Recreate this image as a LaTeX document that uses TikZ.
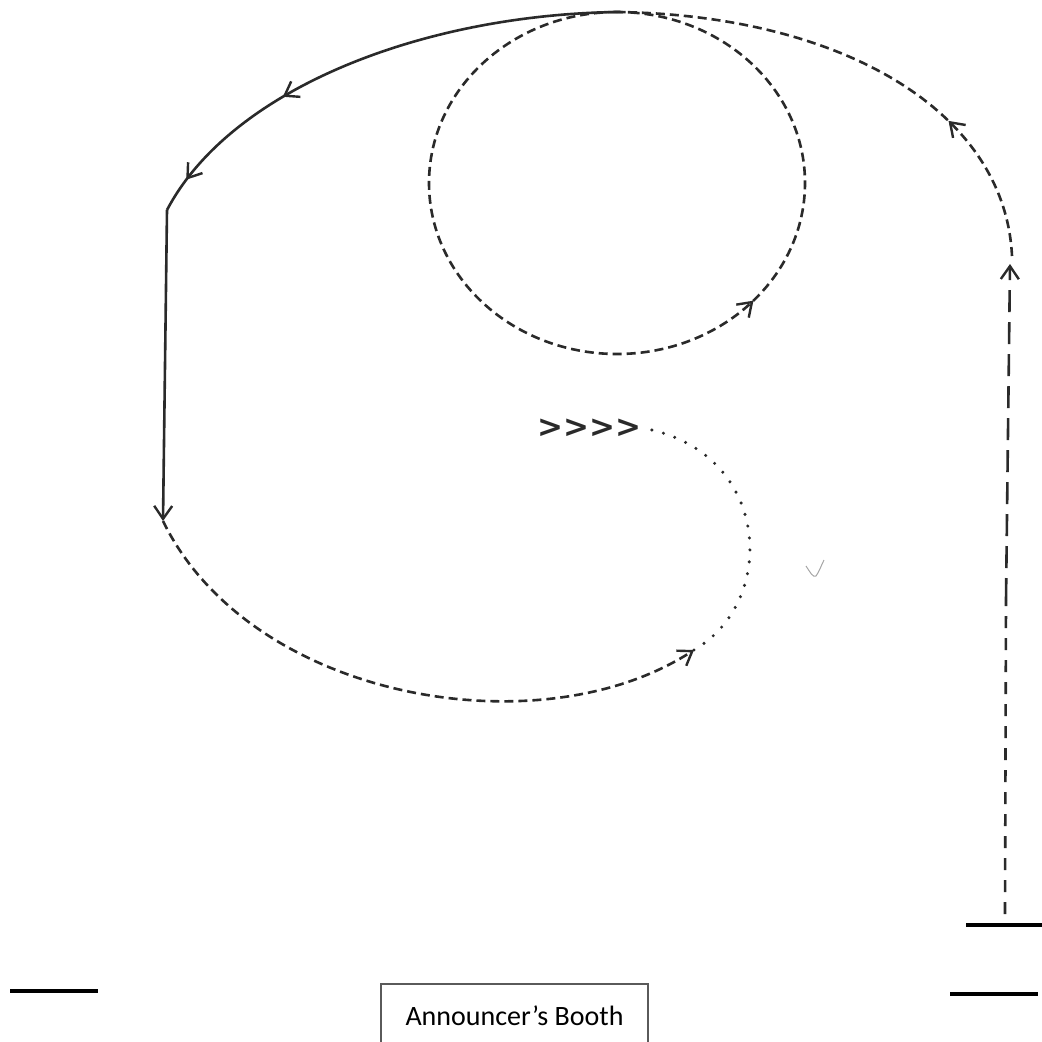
\documentclass[tikz,border=0pt]{standalone}
\usepackage{fontspec}
\newfontfamily\boothfont{Carlito}
\newfontfamily\chevfont{DejaVu Sans}
\usetikzlibrary{arrows.meta,decorations.markings}
\definecolor{ink}{HTML}{2A2A2A}
\definecolor{boxline}{HTML}{5A5A5A}
\tikzset{
  tip/.tip={Straight Barb[length=13pt,width=18pt,line width=2.4pt]},
  route/.style={draw=ink,line width=2.6pt},
  shortdash/.style={route,dash pattern=on 9pt off 5pt},
  dotline/.style={draw=ink,line width=3.4pt,line cap=round,dash pattern=on 0pt off 12pt},
  midarrow/.style={postaction={decorate,decoration={markings,
     mark=at position #1 with {\arrow[ink]{tip}}}}},
  bar/.style={draw=black,line width=3.6pt},
}
\begin{document}
\begin{tikzpicture}[x=1pt,y=-1pt]
\useasboundingbox (0,0) rectangle (1042,1042);
% named points
\coordinate (top) at (617,12);
\coordinate (bend) at (167,210);
\coordinate (lbot) at (163,521);
\coordinate (loopend) at (694,650);
\coordinate (chevend) at (642,428);
\coordinate (rtop) at (1012,256);
\coordinate (rtip) at (1010,264);
\coordinate (rmid) at (1006,600);
\coordinate (rbot) at (1005,914);
% text
\node[font=\chevfont\bfseries\fontsize{31}{33}\selectfont,text=ink,anchor=east,inner sep=0pt] (chev) at (chevend) {>>>>};
\node[draw=boxline,line width=1.5pt,minimum width=267pt,minimum height=64pt,inner sep=0pt,
      font=\boothfont\fontsize{28}{30}\selectfont] (booth) at (514.5,1016) {Announcer’s Booth};
% right vertical (dashed up)
\draw[route,dash pattern=on 12pt off 10pt] (rbot) -- (rmid);
\draw[route,dash pattern=on 22pt off 10pt,-{tip}] (rmid) -- (rtip);
% right curve up to top
\draw[shortdash,midarrow=0.3] (rtop) .. controls (1005,110) and (840,15) .. (top);
% circle
\draw[shortdash,midarrow=0.633] (top) arc[start angle=270,end angle=-90,x radius=188,y radius=171];
% solid curve to left
\draw[route,midarrow=0.68,midarrow=0.93] (top) .. controls (420,15) and (230,90) .. (bend);
\draw[route,-{tip}] (bend) -- (lbot);
% lower dashed loop
\draw[shortdash,-{tip}] (lbot) .. controls (250,700) and (540,750) .. (loopend);
% dotted part
\draw[dotline] (loopend) .. controls (780,600) and (770,450) .. (chevend);
% stray mark
\draw[gray!70,line width=1pt] (806,566) .. controls (810,572) and (813,578) .. (816,576) .. controls (819,572) and (821,566) .. (824,560);
% bars
\coordinate (l1a) at (10,991); \coordinate (l1b) at (98,991);
\coordinate (r1a) at (966,925); \coordinate (r1b) at (1042,925);
\coordinate (r2a) at (950,994); \coordinate (r2b) at (1038,994);
\draw[bar] (l1a) -- (l1b);
\draw[bar] (r1a) -- (r1b);
\draw[bar] (r2a) -- (r2b);
\end{tikzpicture}
\end{document}
